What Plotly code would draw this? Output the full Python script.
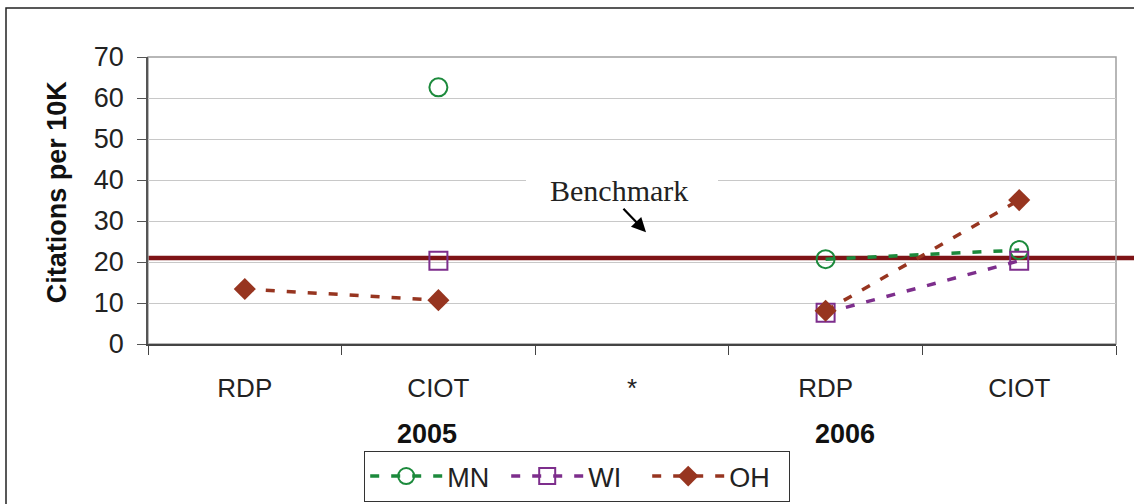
import plotly.graph_objects as go

# ---- data ----
categories = ["RDP", "CIOT", "*", "RDP", "CIOT"]
years = ["2005", "2006"]
year_pos = [0.94, 3.1]
mn = [None, 62.6, None, 20.7, 22.9]
wi = [None, 20.3, None, 7.6, 20.3]
oh = [13.4, 10.7, None, 8.1, 35.1]
benchmark = 21.0
y_ticks = [0, 10, 20, 30, 40, 50, 60, 70]
YMAX = 70

x = list(range(len(categories)))

GREEN = "#1C8A3C"
PURPLE = "#7D2E8C"
BROWN = "#973520"
BENCH = "#7E1416"
DASH = "9px,12px"

fig = go.Figure()
fig.add_trace(go.Scatter(x=x, y=mn, name="MN", mode="lines+markers",
                         line=dict(color=GREEN, width=3.5, dash=DASH),
                         marker=dict(symbol="circle-open", size=18, line=dict(width=2, color=GREEN)),
                         connectgaps=False, cliponaxis=False))
fig.add_trace(go.Scatter(x=x, y=wi, name="WI", mode="lines+markers",
                         line=dict(color=PURPLE, width=3.5, dash=DASH),
                         marker=dict(symbol="square-open", size=18, line=dict(width=2, color=PURPLE)),
                         connectgaps=False, cliponaxis=False))
fig.add_trace(go.Scatter(x=x, y=oh, name="OH", mode="lines+markers",
                         line=dict(color=BROWN, width=3.5, dash=DASH),
                         marker=dict(symbol="diamond", size=17, color=BROWN, line=dict(width=0)),
                         connectgaps=False, cliponaxis=False))

L, R, T, B = 148, 18, 56.5, 160
W, H = 1134, 504
pw = W - L - R
ph = H - T - B

def px_x(p):
    return (p - L) / pw

def px_y(p):
    return (H - B - p) / ph

shapes = [
    # benchmark line (extends beyond plot area)
    dict(type="line", xref="paper", yref="paper", x0=0, x1=px_x(1140),
         y0=benchmark / YMAX, y1=benchmark / YMAX,
         line=dict(color=BENCH, width=4.5), layer="below"),
    # plot-area border (top/right)
    dict(type="rect", xref="paper", yref="paper", x0=0, x1=1, y0=0, y1=1,
         line=dict(color="#A0A0A0", width=1.5), layer="below"),
    # white box behind benchmark text
    dict(type="rect", xref="paper", yref="paper", x0=px_x(526), x1=px_x(718),
         y0=px_y(211), y1=px_y(168), fillcolor="white", line=dict(width=0), layer="above"),
    # outer chart border
    dict(type="rect", xref="paper", yref="paper", x0=px_x(6), x1=px_x(1145),
         y0=px_y(515), y1=px_y(7.5), line=dict(color="#222222", width=1.5), layer="above"),
]

annotations = [
    dict(text="Benchmark", xref="paper", yref="paper", x=px_x(619), y=px_y(190),
         xanchor="center", yanchor="middle",
         showarrow=False, font=dict(family="Liberation Serif, Times New Roman, serif", size=30, color="#222222")),
    dict(text="", xref="paper", yref="paper", x=px_x(646), y=px_y(232),
         ax=-24, ay=-25, showarrow=True, arrowhead=2, arrowsize=1.3, arrowwidth=2.2, arrowcolor="#000000"),
    dict(text="<b>Citations per 10K</b>", xref="paper", yref="paper", x=px_x(57), y=px_y(192),
         xanchor="center", yanchor="middle",
         textangle=-90, showarrow=False,
         font=dict(family="Liberation Sans, Arial, sans-serif", size=27, color="#111111")),
]
for yr, pos in zip(years, year_pos):
    annotations.append(dict(text=f"<b>{yr}</b>", x=pos, xref="x", yref="paper", y=px_y(434),
                            xanchor="center", yanchor="middle",
                            showarrow=False,
                            font=dict(family="Liberation Sans, Arial, sans-serif", size=27, color="#111111")))

fig.update_layout(
    width=W, height=H,
    margin=dict(l=L, r=R, t=T, b=B, autoexpand=False),
    paper_bgcolor="white", plot_bgcolor="white",
    font=dict(family="Liberation Sans, Arial, sans-serif", color="#222222"),
    showlegend=True,
    legend=dict(orientation="h", x=px_x(577), xanchor="center", y=px_y(451), yanchor="top",
                bordercolor="#333333", borderwidth=1.2, bgcolor="white",
                font=dict(size=27, color="#222222"), itemwidth=72,
                entrywidth=54, entrywidthmode="pixels",
                traceorder="normal"),
    shapes=shapes,
    annotations=annotations,
    xaxis=dict(range=[-0.5, len(categories) - 0.5], tickmode="array", tickvals=x, ticktext=categories,
               ticks="", showgrid=False, zeroline=False, showline=True, linecolor="#444444", linewidth=2,
               tickfont=dict(size=26, color="#222222"), ticklabelstandoff=20,
               minor=dict(tickmode="array", tickvals=[i - 0.5 for i in range(len(categories) + 1)],
                          ticks="outside", ticklen=9, tickcolor="#444444", tickwidth=1.2, showgrid=False)),
    yaxis=dict(range=[0, YMAX], tickmode="array", tickvals=y_ticks, ticks="outside", ticklen=9,
               tickcolor="#555555", showgrid=True, gridcolor="#C8C8C8", gridwidth=1.2,
               zeroline=False, showline=True, linecolor="#555555", linewidth=1.5,
               tickfont=dict(size=27, color="#222222"), ticklabelstandoff=8),
)

fig.write_html("out.html")
